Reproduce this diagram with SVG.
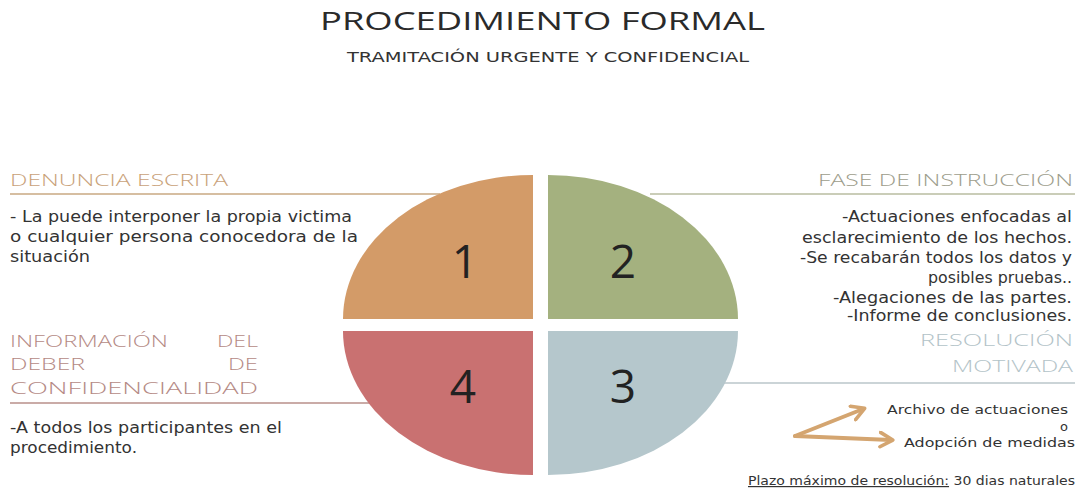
<svg xmlns="http://www.w3.org/2000/svg" width="1080" height="490" viewBox="0 0 1080 490">
<defs>
<style>
text{font-family:"DejaVu Sans","Liberation Sans",sans-serif;}
.title{font-family:"Open Sans","DejaVu Sans",sans-serif;font-size:25px;fill:#2a2a2a;font-weight:400;}
.sub{font-size:14px;fill:#333;}
.head{font-family:"Open Sans","DejaVu Sans",sans-serif;font-size:17px;font-weight:300;}
.body{font-size:15px;fill:#333;}
.small{font-size:13px;fill:#333;}
.num{font-family:"Open Sans","DejaVu Sans",sans-serif;font-size:46px;fill:#222;font-weight:400;text-anchor:middle;}
.r{text-anchor:end;}
.rule{stroke-width:1.5;fill:none;}
</style>
<marker id="chev" viewBox="0 0 10 10" refX="7" refY="5" markerWidth="4.5" markerHeight="4.5" orient="auto" markerUnits="strokeWidth">
<path d="M1,1 L8,5 L1,9" fill="none" stroke="#d4a570" stroke-width="2" stroke-linecap="round" stroke-linejoin="round"/>
</marker>
</defs>
<rect width="1080" height="490" fill="#fff"/>

<g id="header">
<text class="title" x="320" y="30" textLength="445" lengthAdjust="spacingAndGlyphs">PROCEDIMIENTO FORMAL</text>
<text class="sub" x="347" y="62" textLength="402" lengthAdjust="spacingAndGlyphs">TRAMITACIÓN URGENTE Y CONFIDENCIAL</text>
</g>

<g id="connectors">
<line class="rule" x1="10" y1="194" x2="440" y2="194" stroke="#c9a882"/>
<line class="rule" x1="650" y1="194" x2="1075" y2="194" stroke="#b9bca0"/>
<line class="rule" x1="10" y1="403" x2="380" y2="403" stroke="#b88f8a"/>
<line class="rule" x1="720" y1="383" x2="1075" y2="383" stroke="#bac6ca"/>
<path d="M795,436 L863,409" stroke="#d4a570" stroke-width="4" stroke-linecap="round" fill="none" marker-end="url(#chev)"/>
<path d="M795,436 L891,440" stroke="#d4a570" stroke-width="4" stroke-linecap="round" fill="none" marker-end="url(#chev)"/>
</g>

<g id="q1">
<path d="M533,319 L343,319 A190,144 0 0 1 533,175 Z" fill="#d39b68"/>
<text class="num" x="465" y="278">1</text>
</g>
<g id="q2">
<path d="M548,319 L548,175 A190,144 0 0 1 738,319 Z" fill="#a4b17f"/>
<text class="num" x="623" y="278">2</text>
</g>
<g id="q3">
<path d="M548,331 L738,331 A190,144 0 0 1 548,475 Z" fill="#b5c7cc"/>
<text class="num" x="623" y="403">3</text>
</g>
<g id="q4">
<path d="M533,331 L533,475 A190,144 0 0 1 343,331 Z" fill="#c97171"/>
<text class="num" x="463" y="403">4</text>
</g>

<g id="denuncia">
<text class="head" x="10" y="186" fill="#c9a27a" textLength="218" lengthAdjust="spacingAndGlyphs">DENUNCIA ESCRITA</text>
<text class="body" x="10" y="222" textLength="342" lengthAdjust="spacingAndGlyphs">- La puede interponer la propia victima</text>
<text class="body" x="10" y="242" textLength="348" lengthAdjust="spacingAndGlyphs">o cualquier persona conocedora de la</text>
<text class="body" x="10" y="262" textLength="80" lengthAdjust="spacingAndGlyphs">situación</text>
</g>

<g id="instruccion">
<text class="head r" x="1073" y="186" fill="#9d9d8c" textLength="255" lengthAdjust="spacingAndGlyphs">FASE DE INSTRUCCIÓN</text>
<text class="body r" x="1072" y="222" textLength="230" lengthAdjust="spacingAndGlyphs">-Actuaciones enfocadas al</text>
<text class="body r" x="1072" y="243" textLength="270" lengthAdjust="spacingAndGlyphs">esclarecimiento de los hechos.</text>
<text class="body r" x="1072" y="263" textLength="272" lengthAdjust="spacingAndGlyphs">-Se recabarán todos los datos y</text>
<text class="body r" x="1072" y="283" textLength="144" lengthAdjust="spacingAndGlyphs">posibles pruebas..</text>
<text class="body r" x="1072" y="303" textLength="239" lengthAdjust="spacingAndGlyphs">-Alegaciones de las partes.</text>
<text class="body r" x="1072" y="321" textLength="225" lengthAdjust="spacingAndGlyphs">-Informe de conclusiones.</text>
</g>

<g id="resolucion">
<text class="head r" x="1073" y="346" fill="#b3c3c8" textLength="153" lengthAdjust="spacingAndGlyphs">RESOLUCIÓN</text>
<text class="head r" x="1073" y="372" fill="#b3c3c8" textLength="121" lengthAdjust="spacingAndGlyphs">MOTIVADA</text>
<text class="small r" x="1068" y="414" textLength="181" lengthAdjust="spacingAndGlyphs">Archivo de actuaciones</text>
<text class="small r" x="1068" y="431">o</text>
<text class="small r" x="1075" y="447" textLength="171" lengthAdjust="spacingAndGlyphs">Adopción de medidas</text>
<text x="748" y="485" font-size="12" fill="#333" textLength="327" lengthAdjust="spacingAndGlyphs"><tspan text-decoration="underline">Plazo máximo de resolución:</tspan> 30 dias naturales</text>
</g>

<g id="informacion">
<text class="head" x="10" y="347" fill="#b58a85" textLength="158" lengthAdjust="spacingAndGlyphs">INFORMACIÓN</text>
<text class="head r" x="258" y="347" fill="#b58a85" textLength="41" lengthAdjust="spacingAndGlyphs">DEL</text>
<text class="head" x="10" y="370" fill="#b58a85" textLength="75" lengthAdjust="spacingAndGlyphs">DEBER</text>
<text class="head r" x="258" y="370" fill="#b58a85" textLength="30" lengthAdjust="spacingAndGlyphs">DE</text>
<text class="head" x="10" y="394" fill="#b58a85" textLength="248" lengthAdjust="spacingAndGlyphs">CONFIDENCIALIDAD</text>
<text class="body" x="10" y="433" textLength="272" lengthAdjust="spacingAndGlyphs">-A todos los participantes en el</text>
<text class="body" x="10" y="453" textLength="127" lengthAdjust="spacingAndGlyphs">procedimiento.</text>
</g>
</svg>
